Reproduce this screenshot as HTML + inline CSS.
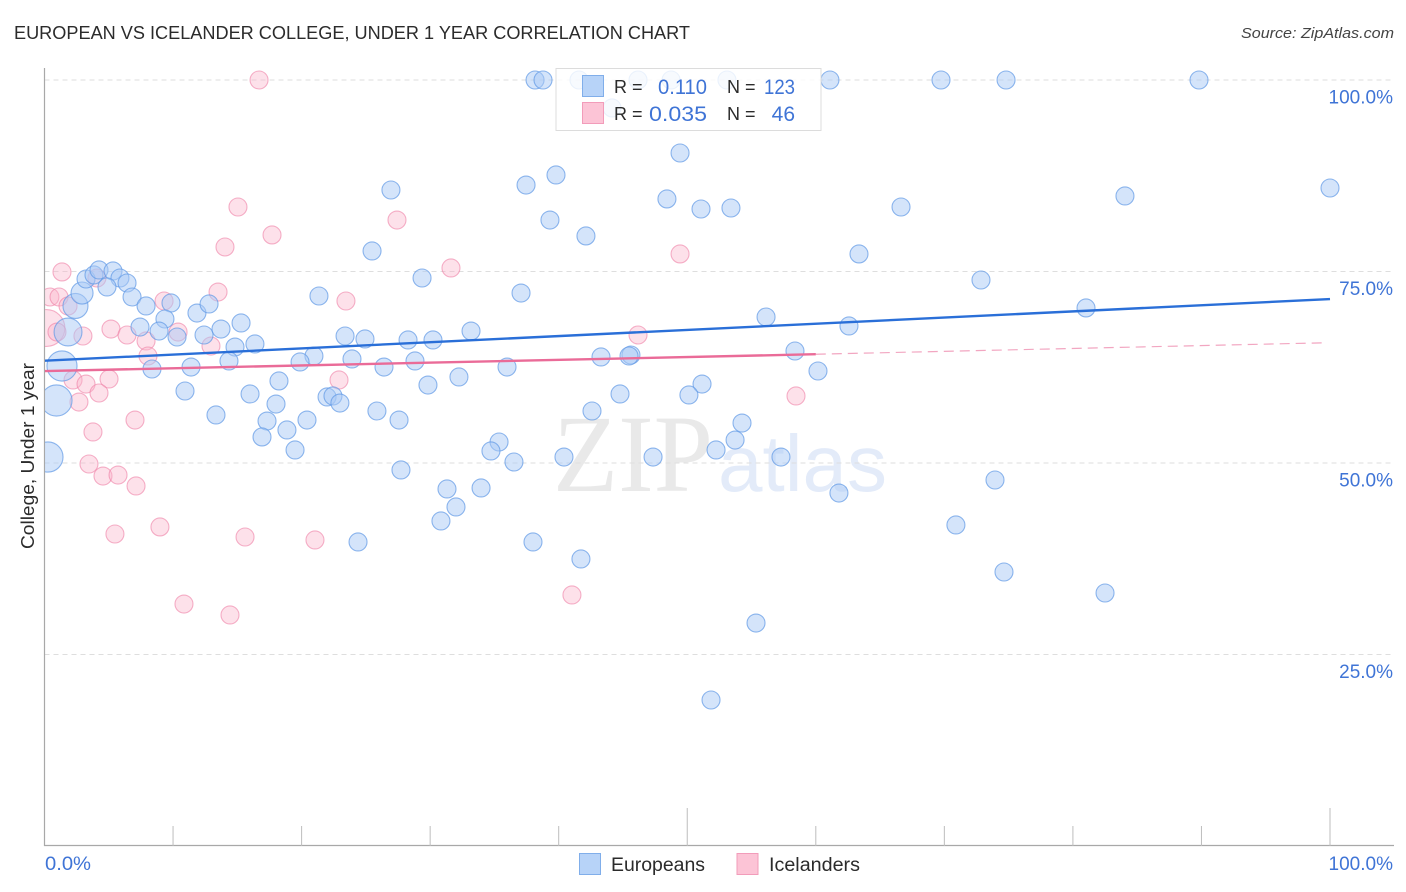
<!DOCTYPE html>
<html lang="en">
<head>
<meta charset="utf-8">
<title>European vs Icelander College, Under 1 Year Correlation Chart</title>
<style>
html,body{margin:0;padding:0;background:#fff;width:1406px;height:892px;overflow:hidden}
svg{display:block;font-family:"Liberation Sans",sans-serif}
</style>
</head>
<body>
<svg id="chart" width="1406" height="892" viewBox="0 0 1406 892" xmlns="http://www.w3.org/2000/svg">
  <defs><clipPath id="plot-clip"><rect x="45" y="0" width="1361" height="846"/></clipPath></defs>
  <text x="14" y="39" font-size="18" fill="#2b2b2b" textLength="676" lengthAdjust="spacingAndGlyphs">EUROPEAN VS ICELANDER COLLEGE, UNDER 1 YEAR CORRELATION CHART</text>
  <text x="1241" y="38" font-size="15" font-style="italic" fill="#444" textLength="153" lengthAdjust="spacingAndGlyphs">Source: ZipAtlas.com</text>
  <text x="553" y="491" font-size="110" font-family="'Liberation Serif',serif" fill="#e9e9e9" textLength="160" lengthAdjust="spacingAndGlyphs">ZIP</text>
  <text x="718" y="491" font-size="80" font-family="'Liberation Sans',sans-serif" fill="#e3ebf9" textLength="169" lengthAdjust="spacingAndGlyphs">atlas</text>
  <g id="grid"></g>
  <g id="axes"></g>
  <g id="ylabels"></g>
  <g id="pts-ice" clip-path="url(#plot-clip)"></g>
  <g id="pts-eur" clip-path="url(#plot-clip)"></g>
  <g id="trends" clip-path="url(#plot-clip)"></g>
  <text transform="translate(34,456) rotate(-90)" font-size="18" fill="#2b2b2b" text-anchor="middle" textLength="186" lengthAdjust="spacingAndGlyphs">College, Under 1 year</text>
  <text x="45" y="870" font-size="19" fill="#3f74d6" textLength="46" lengthAdjust="spacingAndGlyphs">0.0%</text>
  <text x="1393" y="870" font-size="19" fill="#3f74d6" text-anchor="end">100.0%</text>

  <g>
    <rect x="556" y="68.5" width="265" height="62" fill="#fff" fill-opacity="0.82" stroke="#dcdcdc" stroke-width="1"/>
    <rect x="582.5" y="75.5" width="21" height="21" fill="#b7d3f8" stroke="#80aeea"/>
    <rect x="582.5" y="102.5" width="21" height="21" fill="#fcc4d6" stroke="#f29cba"/>
    <text x="614" y="93" font-size="18" fill="#2b2b2b">R =</text>
    <text x="658" y="94" font-size="21" fill="#3f74d6" textLength="49" lengthAdjust="spacingAndGlyphs">0.110</text>
    <text x="727" y="93" font-size="18" fill="#2b2b2b">N =</text>
    <text x="764" y="94" font-size="21" fill="#3f74d6" textLength="31" lengthAdjust="spacingAndGlyphs">123</text>
    <text x="614" y="120" font-size="18" fill="#2b2b2b">R =</text>
    <text x="649" y="121" font-size="21" fill="#3f74d6" textLength="58" lengthAdjust="spacingAndGlyphs">0.035</text>
    <text x="727" y="120" font-size="18" fill="#2b2b2b">N =</text>
    <text x="795" y="121" font-size="21" fill="#3f74d6" text-anchor="end">46</text>
  </g>

  <g>
    <rect x="579.5" y="853.5" width="21" height="21" fill="#b7d3f8" stroke="#80aeea"/>
    <text x="611" y="871" font-size="19" fill="#2b2b2b" textLength="94" lengthAdjust="spacingAndGlyphs">Europeans</text>
    <rect x="737" y="853.5" width="21" height="21" fill="#fcc4d6" stroke="#f29cba"/>
    <text x="769" y="871" font-size="19" fill="#2b2b2b" textLength="91" lengthAdjust="spacingAndGlyphs">Icelanders</text>
  </g>
</svg>
<script>
const yTicks = [100, 75, 50, 25];
const yTickLabels = ["100.0%", "75.0%", "50.0%", "25.0%"];
const xTicks = [10, 20, 30, 40, 50, 60, 70, 80, 90, 100];
const xMajorTicks = [50, 100];

const europeanX = [0.27,0.93,1.36,1.83,2.41,2.92,3.23,3.85,4.24,5.33,5.87,6.42,4.86,6.81,7.9,7.43,9.84,9.37,8.91,10.31,11.86,12.8,12.41,13.73,15.29,14.82,16.37,14.35,11.4,8.36,10.93,15.99,18.24,18.01,17.31,18.86,16.92,19.49,13.34,20.42,
38.16,38.78,41.58,46.17,48.74,53.09,61.1,69.74,74.8,89.81,44.15,49.44,100,26.95,37.46,39.79,48.42,51.07,53.4,66.63,84.05,39.32,42.12,25.48,63.36,72.85,29.37,37.07,21.35,81.02,56.13,62.58,33.18,23.38,24.93,28.28,30.22,58.38,45.62,45.47,43.29,23.92,28.82,20.96,19.88,26.41,35.98,60.17,32.24,29.83,51.15,50.13,44.77,21.98,22.44,22.98,25.86,42.59,27.58,54.26,53.72,35.36,34.73,52.24,47.34,40.41,57.29,36.52,27.73,73.94,31.31,33.96,61.8,32.01,30.84,70.9,38,24.39,41.73,74.64,82.5,55.35,51.85];
const europeanY = [50.78,58.16,62.66,67.1,70.5,72.19,74.02,74.55,75.2,75.07,74.15,73.5,72.98,71.67,70.5,67.75,70.89,68.8,67.23,66.45,69.58,70.76,66.71,67.49,68.28,65.14,65.54,63.32,62.53,62.27,59.4,59.01,60.71,57.7,55.48,54.31,53.4,51.7,56.27,55.61,
100,100,100,100,100,100,100,100,100,100,96.35,90.47,85.9,85.64,86.29,87.6,84.47,83.16,83.29,83.42,84.86,81.72,79.64,77.68,77.29,73.89,74.15,72.19,71.8,70.24,69.06,67.89,67.23,66.58,66.19,66.06,66.06,64.62,64.1,63.97,63.84,63.58,63.32,63.97,63.19,62.53,62.53,62.01,61.23,60.18,60.31,58.88,59.01,58.62,58.75,57.83,56.79,56.79,55.61,55.22,53,52.74,51.57,51.7,50.78,50.78,50.78,50.13,49.09,47.78,46.61,46.74,46.08,44.26,42.43,41.91,39.69,39.69,37.47,35.77,33.03,29.11,19.06];
const europeanWeight = [2.8,3,2.8,2.4,1.93,1.5];

const icelanderX = [0.15,16.69,15.05,14.04,17.7,27.42,31.62,49.44,1.36,13.5,23.45,0.42,1.13,1.83,4.08,9.3,5.17,6.42,2.99,0.97,7.9,10.39,8.05,12.95,2.22,3.23,5.02,4.24,2.68,7.04,3.77,3.46,4.55,5.72,7.12,22.91,46.17,58.46,5.48,8.98,15.6,21.04,10.85,14.43,41.03];
const icelanderY = [67.62,100,83.42,78.2,79.77,81.72,75.46,77.29,74.94,72.32,71.15,71.67,71.67,70.5,74.15,71.15,67.49,66.71,66.58,67.1,65.93,67.1,63.97,65.27,60.84,60.31,60.97,59.14,57.96,55.61,54.05,49.87,48.3,48.43,47,60.84,66.71,58.75,40.73,41.65,40.34,39.95,31.59,30.16,32.77];
const icelanderWeight = [4.2];

const europeanTrendX = [0, 100];
const europeanTrendY = [63.35, 71.4];
const icelanderTrendX = [0, 60, 99.8];
const icelanderTrendY = [62.0, 64.2, 65.7];

const NS = "http://www.w3.org/2000/svg";
const xScale = v => 44.5 + v * 12.855;
const yScale = v => 846 - v * 7.66;
const rScale = w => 9 * Math.sqrt(w);

function make(tag, parent, attrs) {
  const el = document.createElementNS(NS, tag);
  for (const k in attrs) el.setAttribute(k, attrs[k]);
  document.getElementById(parent).appendChild(el);
  return el;
}

yTicks.forEach((t, i) => {
  const g = make("line", "grid", {x1: 44.5, x2: 1394, y1: yScale(t), y2: yScale(t), stroke: "#dedede", "stroke-width": 1, "stroke-dasharray": "5 4"});
  
  
  const l = make("text", "ylabels", {x: 1393, y: yScale(t) + 23.5, "font-size": 19, fill: "#3f74d6", "text-anchor": "end"});
  l.textContent = yTickLabels[i];
  
  
});

const yAxisLine = make("line", "axes", {x1: 44.5, x2: 44.5, y1: 68, y2: 846, stroke: "#a8a8a8", "stroke-width": 1.2});


const xAxisLine = make("line", "axes", {x1: 44, x2: 1394, y1: 845.5, y2: 845.5, stroke: "#a8a8a8", "stroke-width": 1.2});


xTicks.forEach(t => {
  const top = xMajorTicks.includes(t) ? 808 : 826;
  const tk = make("line", "axes", {x1: xScale(t), x2: xScale(t), y1: top, y2: 846, stroke: "#bdbdbd", "stroke-width": 1});
  
  
});

icelanderX.forEach((x, i) => {
  const c = make("circle", "pts-ice", {cx: xScale(x), cy: yScale(icelanderY[i]), r: rScale(icelanderWeight[i] ?? 1), fill: "#fbb4cb", "fill-opacity": 0.4, stroke: "#ee7fa5", "stroke-opacity": 0.6, "stroke-width": 1.1});
  
  
});
europeanX.forEach((x, i) => {
  const c = make("circle", "pts-eur", {cx: xScale(x), cy: yScale(europeanY[i]), r: rScale(europeanWeight[i] ?? 1), fill: "#a9c9f6", "fill-opacity": 0.5, stroke: "#5f99e6", "stroke-opacity": 0.7, "stroke-width": 1.1});
  
  
});

const blueTrend = make("line", "trends", {x1: xScale(europeanTrendX[0]), y1: yScale(europeanTrendY[0]), x2: xScale(europeanTrendX[1]), y2: yScale(europeanTrendY[1]), stroke: "#2a6fd8", "stroke-width": 2.4});


const pinkTrend = make("line", "trends", {x1: xScale(icelanderTrendX[0]), y1: yScale(icelanderTrendY[0]), x2: xScale(icelanderTrendX[1]), y2: yScale(icelanderTrendY[1]), stroke: "#ea6b98", "stroke-width": 2.4});


const pinkDash = make("line", "trends", {x1: xScale(icelanderTrendX[1]), y1: yScale(icelanderTrendY[1]), x2: xScale(icelanderTrendX[2]), y2: yScale(icelanderTrendY[2]), stroke: "#ea6b98", "stroke-opacity": 0.6, "stroke-width": 1.2, "stroke-dasharray": "10 6"});


</script>
</body>
</html>
